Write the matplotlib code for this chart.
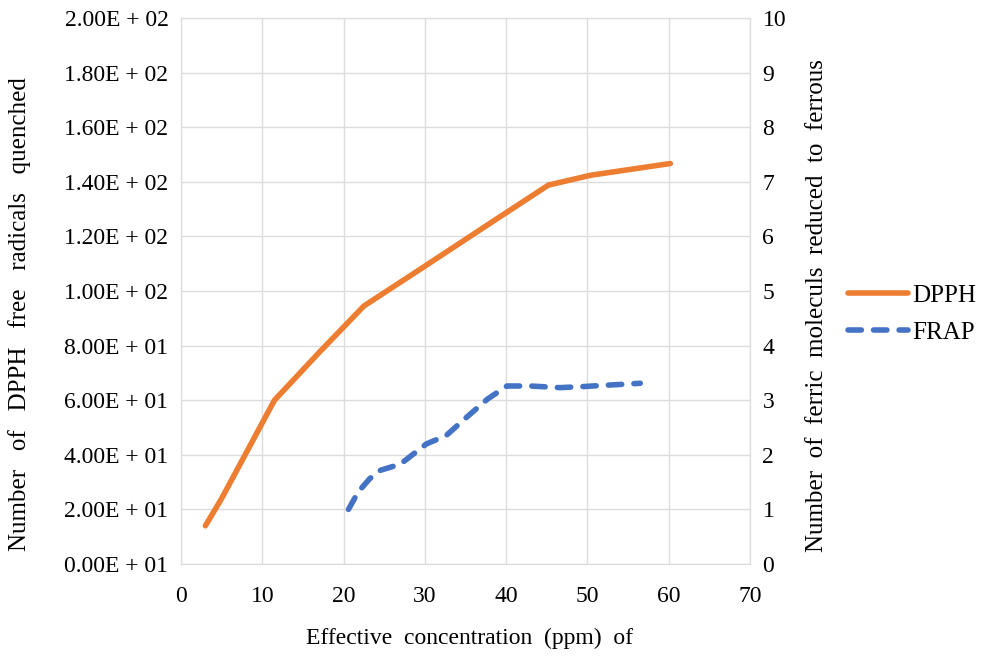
import matplotlib
matplotlib.use("Agg")
import matplotlib.pyplot as plt
from matplotlib.lines import Line2D

plt.rcParams['font.family'] = ['Liberation Serif', 'DejaVu Serif']

# Data
dpph_x = [3.0, 5.0, 11.5, 17.0, 22.5, 29.8, 37.3, 45.2, 50.4, 60.2]
dpph_y = [14, 24, 60, 77.5, 94.5, 108.7, 123.4, 138.8, 142.4, 146.7]
frap_x = [20.6, 21.8, 23.2, 24.4, 27.0, 30.2, 32.6, 35.0, 37.7, 40.1, 43.0, 46.6, 49.5, 56.5]
frap_y = [1.0, 1.32, 1.56, 1.71, 1.83, 2.2, 2.35, 2.67, 3.02, 3.26, 3.26, 3.23, 3.25, 3.31]

x_ticks = [0, 10, 20, 30, 40, 50, 60, 70]
left_ticks = [0, 20, 40, 60, 80, 100, 120, 140, 160, 180, 200]
left_labels = ["0.00E + 01", "2.00E + 01", "4.00E + 01", "6.00E + 01", "8.00E + 01",
               "1.00E + 02", "1.20E + 02", "1.40E + 02", "1.60E + 02", "1.80E + 02",
               "2.00E + 02"]
right_ticks = [0, 1, 2, 3, 4, 5, 6, 7, 8, 9, 10]

orange = '#ED7D31'
blue = '#4472C4'
grid_c = '#dcdcdc'

W, H = 982, 657
L, R, T, B = 181, 750, 18, 564
fig = plt.figure(figsize=(W/100, H/100), dpi=100)
ax = fig.add_axes([L/W, 1-B/H, (R-L)/W, (B-T)/H])
ax2 = ax.twinx()

lw = 4.0
dash = (0, (2.4, 2.2))
ax.plot(dpph_x, dpph_y, color=orange, lw=lw, solid_capstyle='round', solid_joinstyle='round', zorder=3)
ax2.plot(frap_x, frap_y, color=blue, lw=lw, linestyle=dash, dash_capstyle='round', zorder=3)

ax.set_xlim(0, 70)
ax.set_ylim(0, 200)
ax2.set_ylim(0, 10)
ax.set_xticks(x_ticks)
ax.set_yticks(left_ticks)
ax.set_yticklabels(left_labels)
ax2.set_yticks(right_ticks)

ax.grid(True, color=grid_c, lw=1.0)
ax.set_axisbelow(True)
for a in (ax, ax2):
    for s in a.spines.values():
        s.set_color(grid_c)
    a.tick_params(length=0, labelsize=17)

ax.tick_params(axis='y', pad=9)
ax.tick_params(axis='x', pad=16)
ax2.tick_params(axis='y', pad=9)

fs_lab = 18
ax.set_xlabel("Effective  concentration  (ppm)  of", fontsize=17)
ax.xaxis.set_label_coords((470-L)/(R-L), -(638-B)/(B-T))
ax.xaxis.label.set_va('center')
ax.set_ylabel("Number   of   DPPH   free   radicals   quenched", fontsize=fs_lab)
ax.yaxis.set_label_coords(-(L-20)/(R-L), (B-314)/(B-T))
ax.yaxis.label.set_va('center')
ax2.set_ylabel("Number  of  ferric  moleculs  reduced  to  ferrous", fontsize=fs_lab)
ax2.yaxis.set_label_coords((817-L)/(R-L), (B-306)/(B-T))
ax2.yaxis.label.set_va('center')

handles = [Line2D([], [], color=orange, lw=lw, solid_capstyle='round'),
           Line2D([], [], color=blue, lw=lw, linestyle=dash, dash_capstyle='round')]
fig.legend(handles, ["DPPH", "FRAP"], loc='center left',
           bbox_to_anchor=(848/W, 1-314/H), frameon=False, fontsize=18,
           handlelength=2.4, handletextpad=0.15, labelspacing=0.6,
           borderpad=0, borderaxespad=0)

fig.savefig("out.png", dpi=100)
